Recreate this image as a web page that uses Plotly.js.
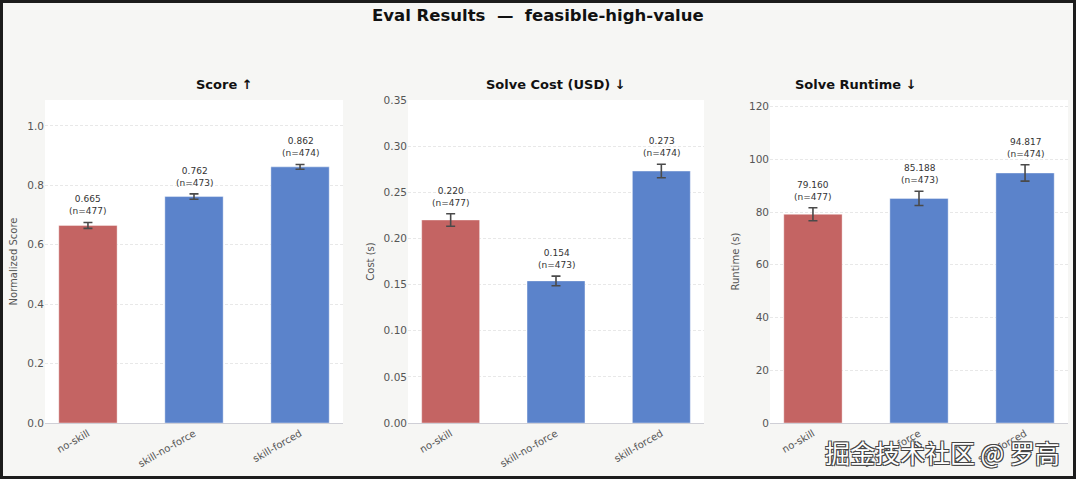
<!DOCTYPE html>
<html><head><meta charset="utf-8">
<script src="https://cdn.plot.ly/plotly-3.0.1.min.js"></script>
<style>
html,body{margin:0;padding:0;background:#1c1c1c;}
#wrap{width:1076px;height:479px;box-sizing:border-box;border:3px solid #1c1c1c;background:#f6f6f4;}
#chart{width:1070px;height:473px;}
</style></head>
<body><div id="wrap"><div id="chart"></div></div>
<script>
const categories = ["no-skill", "skill-no-force", "skill-forced"];
const scoreValues = [0.665, 0.762, 0.862];
const scoreErrors = [0.010, 0.009, 0.008];
const costValues = [0.220, 0.154, 0.273];
const costErrors = [0.0068, 0.0052, 0.0073];
const runtimeValues = [79.160, 85.188, 94.817];
const runtimeErrors = [2.45, 2.7, 3.1];
const sampleCounts = [477, 473, 474];
const barColors = ["#c46463", "#5b83cb", "#5b83cb"];

const panels = [
  {title: "Score ↑", ylabel: "Normalized Score", vals: scoreValues, errs: scoreErrors, fmt: 3, range: [0, 1.087], dtick: 0.2, tickformat: ".1f"},
  {title: "Solve Cost (USD) ↓", ylabel: "Cost (s)", vals: costValues, errs: costErrors, fmt: 3, range: [0, 0.35], dtick: 0.05, tickformat: ".2f"},
  {title: "Solve Runtime ↓", ylabel: "Runtime (s)", vals: runtimeValues, errs: runtimeErrors, fmt: 3, range: [0, 122.5], dtick: 20, tickformat: "d"}
];
const W = 1070, H = 473;
const xDomains = [[42/W, 340/W], [405/W, 701/W], [767/W, 1065/W]];
const yDomain = [(H-420)/H, (H-97)/H];
const font = "DejaVu Sans, Liberation Sans, sans-serif";

const traces = [];
const annotations = [];
const layout = {
  width: W, height: H,
  margin: {l: 0, r: 0, t: 0, b: 0},
  paper_bgcolor: "#f6f6f4",
  plot_bgcolor: "#ffffff",
  showlegend: false,
  font: {family: font, color: "#555"},
  bargap: 0.45
};

panels.forEach((p, i) => {
  const sfx = i === 0 ? "" : String(i + 1);
  traces.push({
    type: "bar", x: categories, y: p.vals,
    xaxis: "x" + sfx, yaxis: "y" + sfx,
    width: 0.55,
    marker: {color: barColors, line: {color: "rgba(255,255,255,0.4)", width: 1}},
    error_y: {type: "data", array: p.errs, visible: true, color: "#4a4a4a", thickness: 1.6, width: 4.5},
    hoverinfo: "none"
  });
  layout["xaxis" + sfx] = {
    domain: xDomains[i], anchor: "y" + sfx,
    range: [-0.405, 2.405],
    tickangle: -30, tickfont: {size: 10, color: "#555"},
    showgrid: false, showline: true, linecolor: "#cfcfd6", linewidth: 1,
    ticks: "", fixedrange: true
  };
  layout["yaxis" + sfx] = {
    domain: yDomain, anchor: "x" + sfx,
    range: p.range, dtick: p.dtick, tick0: 0, tickformat: p.tickformat,
    tickfont: {size: 10.5, color: "#555"},
    showgrid: true, gridcolor: "#e2e2e2", griddash: "3px,2px", gridwidth: 0.8,
    zeroline: false, showline: false, ticks: "",
    title: {text: p.ylabel, font: {size: 10, color: "#555"}, standoff: 7}
  };
  categories.forEach((c, j) => {
    annotations.push({
      xref: "x" + sfx, yref: "y" + sfx, x: c, y: p.vals[j] + p.errs[j],
      text: p.vals[j].toFixed(p.fmt) + "<br>(n=" + sampleCounts[j] + ")",
      showarrow: false, yanchor: "bottom", yshift: 4,
      font: {size: 9, color: "#333", family: font}
    });
  });
  annotations.push({
    xref: "paper", yref: "paper",
    x: (xDomains[i][0] + xDomains[i][1]) / 2, y: 1 - 82/H,
    text: "<b>" + p.title + "</b>", showarrow: false, yanchor: "middle",
    font: {size: 13, color: "#111", family: font}
  });
});

annotations.push({
  xref: "paper", yref: "paper", x: 535/W, y: 1 - 13/H,
  text: "<b>Eval Results  —  feasible-high-value</b>", showarrow: false, yanchor: "middle",
  font: {size: 16.5, color: "#111", family: font}
});
annotations.push({
  xref: "paper", yref: "paper", x: 1059/W, y: 1 - 449/H,
  text: "掘金技术社区 @ 罗高", showarrow: false, xanchor: "right", yanchor: "middle",
  font: {size: 25, color: "#ffffff", family: "Noto Sans CJK SC, sans-serif",
         shadow: "1px 1px 0 #444, -1px -1px 0 #444, 1px -1px 0 #444, -1px 1px 0 #444"}
});
layout.annotations = annotations;

Plotly.newPlot("chart", traces, layout, {staticPlot: true, displayModeBar: false});
</script>
</body></html>
